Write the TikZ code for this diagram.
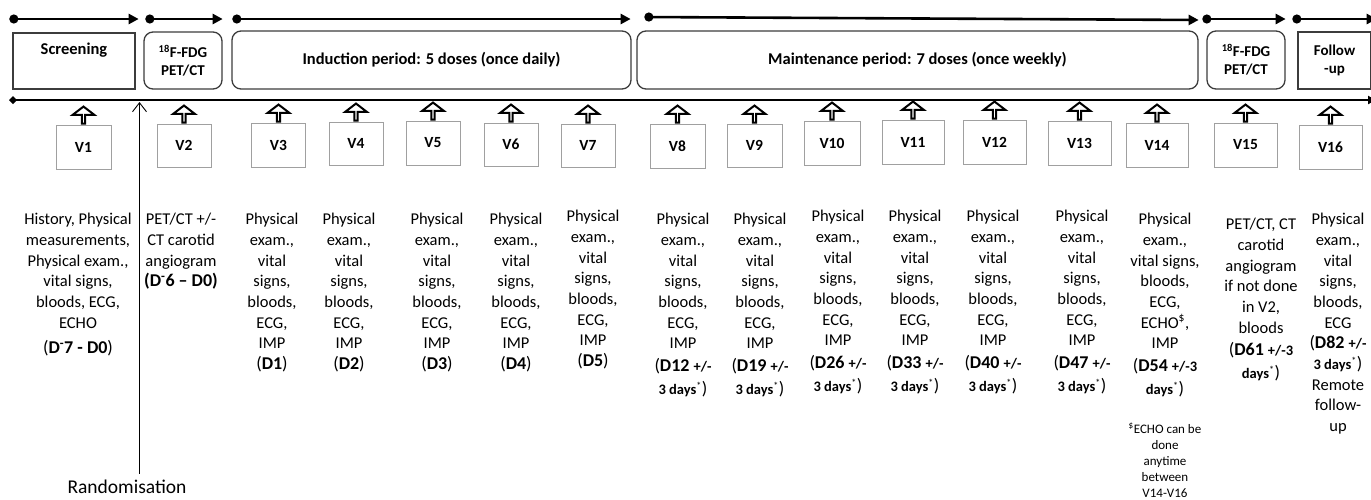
\documentclass[tikz,border=0pt]{standalone}
\usepackage{fontspec}
\setmainfont{Carlito}
\usetikzlibrary{arrows.meta,shapes.arrows,positioning}

\definecolor{boxgray}{HTML}{3C3C3C}
\definecolor{vgray}{HTML}{A0A0A0}

\newcommand{\dayfont}{\fontsize{18}{20.7}\selectfont}
\newcommand{\smb}[1]{{\fontsize{14.5}{16}\selectfont\bfseries #1}}
\newcommand{\daystar}{{\fontsize{14.5}{16}\selectfont\textsuperscript{*}}}
\newcommand{\visittxt}{Physical\\exam.,\\vital\\signs,\\bloods,\\ECG,\\IMP}

\tikzset{
  phase/.style={line width=2.6pt, {Circle[length=9pt]}-{Triangle[length=10pt,width=10pt]}},
  tline/.style={line width=2.8pt, {Diamond[length=8pt,width=8pt]}-{Triangle[length=8pt,width=8pt]}},
  rbox/.style={draw=boxgray, line width=1.3pt, rounded corners=9pt, inner sep=0pt},
  sbox/.style={draw=boxgray, line width=1.3pt, inner sep=0pt},
  bigtxt/.style={font=\fontsize{16.5}{19}\selectfont\bfseries, align=center},
  smalltxt/.style={font=\fontsize{15}{18}\selectfont\bfseries, align=center},
  vbox/.style={draw=vgray, line width=0.9pt, minimum width=54pt, minimum height=44pt,
    inner sep=0pt, font=\fontsize{15.5}{18}\selectfont\bfseries},
  uparr/.style={single arrow, draw=black, fill=white, line width=2pt, shape border rotate=90,
    minimum height=17pt, minimum width=22pt, single arrow head extend=5.5pt,
    single arrow tip angle=105, inner sep=0pt, anchor=tail},
  desc/.style={align=center, anchor=north, inner sep=0pt, font=\fontsize{16.5}{20.7}\selectfont},
  fnote/.style={align=center, anchor=north, inner sep=0pt, font=\fontsize{13}{16}\selectfont},
  randarr/.style={line width=0.9pt, -{Straight Barb[length=9pt,width=14pt]}}
}

\begin{document}
\begin{tikzpicture}[x=1pt,y=-1pt]
  \useasboundingbox (0,0) rectangle (1371,499);

  % period boxes
  \node[sbox, bigtxt, minimum width=122pt, minimum height=56pt, text depth=24pt] (scr) at (74,61) {Screening};
  \node[rbox, smalltxt, minimum width=78pt, minimum height=57pt] (pet1) at (183,60.5) {\textsuperscript{18}F-FDG\\PET/CT};
  \node[rbox, bigtxt, minimum width=399pt, minimum height=58pt] (ind) at (431.5,60) {Induction period: 5 doses (once daily)};
  \node[rbox, bigtxt, minimum width=561pt, minimum height=58pt] (mnt) at (917.5,60) {Maintenance period: 7 doses (once weekly)};
  \node[rbox, smalltxt, minimum width=78pt, minimum height=58pt] (pet2) at (1246,60) {\textsuperscript{18}F-FDG\\PET/CT};
  \node[sbox, smalltxt, minimum width=73pt, minimum height=57pt] (fol) at (1334.5,60.5) {Follow\\-up};

  % period arrows
  \coordinate (top) at (0,19);
  \draw[phase] ([xshift=-3pt]scr.west |- top) -- ([xshift=3pt]scr.east |- top);
  \draw[phase] ([xshift=2pt]pet1.west |- top) -- (pet1.east |- top);
  \draw[phase] ([xshift=1pt]ind.west |- top) -- ([xshift=-1pt]ind.east |- top);
  \draw[phase] ([xshift=8pt]mnt.west |- 0,17) -- (mnt.east |- 0,20);
  \draw[phase] ([xshift=-4pt]pet2.west |- top) -- (pet2.east |- top);
  \draw[phase] ([xshift=-5pt]fol.west |- top) -- ([xshift=5pt]fol.east |- top);

  % time line
  \coordinate (tlL) at (9,100);
  \coordinate (tlR) at (1376,100);
  \draw[tline] (tlL) -- (tlR);

  % visits
  \node[vbox, minimum width=55pt] (v1) at (83.5,147) {V1};
  \node[vbox, minimum height=43pt] (v2) at (184,145.5) {V2};
  \node[vbox] (v3) at (278.5,145) {V3};
  \node[vbox, minimum height=43pt] (v4) at (356,143.5) {V4};
  \node[vbox] (v5) at (433,143) {V5};
  \node[vbox, minimum height=43pt] (v6) at (511,144.5) {V6};
  \node[vbox, minimum height=43pt] (v7) at (588,145.5) {V7};
  \node[vbox, minimum width=55pt] (v8) at (677.5,146) {V8};
  \node[vbox, minimum width=55pt, minimum height=43pt] (v9) at (754.5,145.5) {V9};
  \node[vbox, minimum width=56pt] (v10) at (832,143) {V10};
  \node[vbox, minimum width=62pt] (v11) at (913,142) {V11};
  \node[vbox, minimum width=63pt] (v12) at (994.5,142) {V12};
  \node[vbox, minimum width=63pt] (v13) at (1079.5,143) {V13};
  \node[vbox, minimum width=62pt] (v14) at (1157,145) {V14};
  \node[vbox, minimum width=63pt] (v15) at (1245.5,145) {V15};
  \node[vbox, minimum width=63pt] (v16) at (1330.5,147) {V16};

  \node[uparr] (a1) at (v1.north) {};
  \node[uparr] (a2) at (v2.north) {};
  \node[uparr] (a3) at (v3.north) {};
  \node[uparr] (a4) at (v4.north) {};
  \node[uparr] (a5) at (v5.north) {};
  \node[uparr] (a6) at (v6.north) {};
  \node[uparr] (a7) at (v7.north) {};
  \node[uparr] (a8) at (v8.north) {};
  \node[uparr] (a9) at (v9.north) {};
  \node[uparr] (a10) at (v10.north) {};
  \node[uparr] (a11) at (v11.north) {};
  \node[uparr] (a12) at (v12.north) {};
  \node[uparr] (a13) at (v13.north) {};
  \node[uparr] (a14) at (v14.north) {};
  \node[uparr] (a15) at (v15.north) {};
  \node[uparr] (a16) at (v16.north) {};

  % what happens at each visit
  \node[desc] (d1) at (78,213) {History, Physical\\measurements,\\Physical exam.,\\vital signs,\\bloods, ECG,\\ECHO\\[5pt]{\dayfont(\textbf{D\textsuperscript{-}7 - D0})}};
  \node[desc] (d2) at (181,213) {PET/CT +/-\\CT carotid\\angiogram\\{\dayfont\textbf{(D\textsuperscript{-}6 – D0)}}};
  \node[desc] (d3) at (272,213) {\visittxt\\{\dayfont(\textbf{D1})}};
  \node[desc] (d4) at (349,213) {\visittxt\\{\dayfont(\textbf{D2})}};
  \node[desc] (d5) at (437,213) {\visittxt\\{\dayfont(\textbf{D3})}};
  \node[desc] (d6) at (516,213) {\visittxt\\{\dayfont(\textbf{D4})}};
  \node[desc] (d7) at (593,210) {\visittxt\\{\dayfont(\textbf{D5})}};
  \node[desc] (d8) at (683,213) {\visittxt\\[2pt]{\dayfont(\textbf{D12} \smb{+/-}}\\[2pt]{\smb{3 days}\daystar\dayfont)}};
  \node[desc] (d9) at (760,213) {\visittxt\\[2pt]{\dayfont(\textbf{D19} \smb{+/-}}\\[2pt]{\smb{3 days}\daystar\dayfont)}};
  \node[desc] (d10) at (838,210) {\visittxt\\[2pt]{\dayfont(\textbf{D26} \smb{+/-}}\\[2pt]{\smb{3 days}\daystar\dayfont)}};
  \node[desc] (d11) at (915,210) {\visittxt\\[2pt]{\dayfont(\textbf{D33} \smb{+/-}}\\[2pt]{\smb{3 days}\daystar\dayfont)}};
  \node[desc] (d12) at (993,210) {\visittxt\\[2pt]{\dayfont(\textbf{D40} \smb{+/-}}\\[2pt]{\smb{3 days}\daystar\dayfont)}};
  \node[desc] (d13) at (1082,210) {\visittxt\\[2pt]{\dayfont(\textbf{D47} \smb{+/-}}\\[2pt]{\smb{3 days}\daystar\dayfont)}};
  \node[desc] (d14) at (1165,213) {Physical\\exam.,\\vital signs,\\bloods,\\ECG,\\ECHO\textsuperscript{\$},\\IMP\\[2pt]{\dayfont(\textbf{D54} \smb{+/-3}}\\[2pt]{\smb{days}\daystar\dayfont)}};
  \node[desc] (d15) at (1261,218) {PET/CT, CT\\carotid\\angiogram\\if not done\\in V2,\\bloods\\[2pt]{\dayfont(\textbf{D61} \smb{+/-3}}\\[2pt]{\smb{days}\daystar\dayfont)}};
  \node[desc] (d16) at (1338,213) {Physical\\exam.,\\vital\\signs,\\bloods,\\ECG\\{\dayfont(\textbf{D82} \smb{+/-}}\\{\smb{3 days}\daystar\dayfont)}\\Remote\\follow-\\up};
  \node[fnote] (echo) at (1165,423) {\textsuperscript{\$}ECHO can be\\done\\anytime\\between\\V14-V16};

  % randomisation
  \node[font=\fontsize{19.5}{24}\selectfont, inner sep=0pt] (rnd) at (127,487) {Randomisation};
  \coordinate (rndtop) at (139.5,102);
  \draw[randarr] (rnd.north -| rndtop) ++(0,-6) -- (rndtop);
\end{tikzpicture}
\end{document}
